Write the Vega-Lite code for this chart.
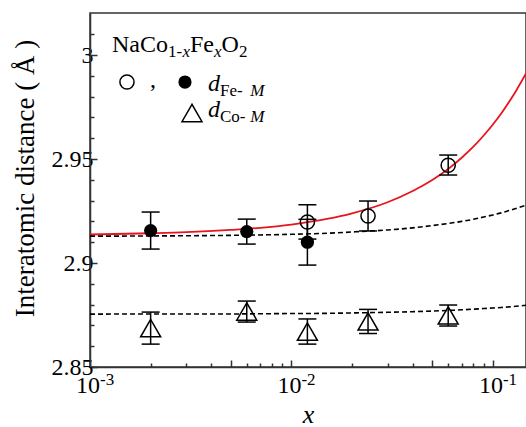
{
  "$schema": "https://vega.github.io/schema/vega-lite/v6.json",
  "width": 436,
  "height": 354,
  "autosize": {"type": "none"},
  "padding": {"left": 90, "top": 13, "right": 0, "bottom": 60},
  "background": "white",
  "config": {"view": {"stroke": "#333", "strokeWidth": 1.5}, "font": "Liberation Serif"},
  "datasets": {
    "curves": [
      {"c": "red", "x": 0.001, "y": 2.9137}, {"c": "red", "x": 0.002, "y": 2.9143}, {"c": "red", "x": 0.003, "y": 2.9148},
      {"c": "red", "x": 0.005, "y": 2.9159}, {"c": "red", "x": 0.007, "y": 2.9169}, {"c": "red", "x": 0.01, "y": 2.9185},
      {"c": "red", "x": 0.015, "y": 2.9212}, {"c": "red", "x": 0.02, "y": 2.9239}, {"c": "red", "x": 0.03, "y": 2.9292},
      {"c": "red", "x": 0.04, "y": 2.9346}, {"c": "red", "x": 0.05, "y": 2.9399}, {"c": "red", "x": 0.06, "y": 2.9452},
      {"c": "red", "x": 0.07, "y": 2.9506}, {"c": "red", "x": 0.08, "y": 2.9559}, {"c": "red", "x": 0.09, "y": 2.9613},
      {"c": "red", "x": 0.1, "y": 2.9666}, {"c": "red", "x": 0.11, "y": 2.9719}, {"c": "red", "x": 0.12, "y": 2.9773},
      {"c": "red", "x": 0.13, "y": 2.9826}, {"c": "red", "x": 0.146, "y": 2.9911},
      {"c": "fe", "x": 0.001, "y": 2.9129}, {"c": "fe", "x": 0.002, "y": 2.913}, {"c": "fe", "x": 0.003, "y": 2.9131},
      {"c": "fe", "x": 0.005, "y": 2.9133}, {"c": "fe", "x": 0.007, "y": 2.9135}, {"c": "fe", "x": 0.01, "y": 2.9138},
      {"c": "fe", "x": 0.015, "y": 2.9143}, {"c": "fe", "x": 0.02, "y": 2.9149}, {"c": "fe", "x": 0.03, "y": 2.9159},
      {"c": "fe", "x": 0.04, "y": 2.9169}, {"c": "fe", "x": 0.05, "y": 2.918}, {"c": "fe", "x": 0.06, "y": 2.919},
      {"c": "fe", "x": 0.07, "y": 2.92}, {"c": "fe", "x": 0.08, "y": 2.921}, {"c": "fe", "x": 0.09, "y": 2.9221},
      {"c": "fe", "x": 0.1, "y": 2.9231}, {"c": "fe", "x": 0.11, "y": 2.9241}, {"c": "fe", "x": 0.12, "y": 2.9252},
      {"c": "fe", "x": 0.13, "y": 2.9262}, {"c": "fe", "x": 0.146, "y": 2.9278},
      {"c": "co", "x": 0.001, "y": 2.8754}, {"c": "co", "x": 0.002, "y": 2.8755}, {"c": "co", "x": 0.003, "y": 2.8755},
      {"c": "co", "x": 0.005, "y": 2.8755}, {"c": "co", "x": 0.007, "y": 2.8756}, {"c": "co", "x": 0.01, "y": 2.8757},
      {"c": "co", "x": 0.015, "y": 2.8758}, {"c": "co", "x": 0.02, "y": 2.876}, {"c": "co", "x": 0.03, "y": 2.8763},
      {"c": "co", "x": 0.04, "y": 2.8766}, {"c": "co", "x": 0.05, "y": 2.8769}, {"c": "co", "x": 0.06, "y": 2.8772},
      {"c": "co", "x": 0.07, "y": 2.8775}, {"c": "co", "x": 0.08, "y": 2.8778}, {"c": "co", "x": 0.09, "y": 2.8781},
      {"c": "co", "x": 0.1, "y": 2.8784}, {"c": "co", "x": 0.11, "y": 2.8786}, {"c": "co", "x": 0.12, "y": 2.8789},
      {"c": "co", "x": 0.13, "y": 2.8792}, {"c": "co", "x": 0.146, "y": 2.8797}
    ],
    "pts": [
      {"k": "filled", "x": 0.002, "y": 2.9156, "lo": 2.9067, "hi": 2.9245},
      {"k": "filled", "x": 0.006, "y": 2.9151, "lo": 2.9091, "hi": 2.9211},
      {"k": "filled", "x": 0.012, "y": 2.91, "lo": 2.899, "hi": 2.921},
      {"k": "open", "x": 0.012, "y": 2.9197, "lo": 2.9115, "hi": 2.928},
      {"k": "open", "x": 0.024, "y": 2.9226, "lo": 2.9154, "hi": 2.9298},
      {"k": "open", "x": 0.06, "y": 2.947, "lo": 2.9423, "hi": 2.9519},
      {"k": "tri", "x": 0.002, "y": 2.8687, "lo": 2.861, "hi": 2.8764},
      {"k": "tri", "x": 0.006, "y": 2.8767, "lo": 2.8716, "hi": 2.8817},
      {"k": "tri", "x": 0.012, "y": 2.867, "lo": 2.861, "hi": 2.8731},
      {"k": "tri", "x": 0.024, "y": 2.8719, "lo": 2.8661, "hi": 2.8777},
      {"k": "tri", "x": 0.06, "y": 2.8748, "lo": 2.8697, "hi": 2.8798},
      {"k": "open", "x": 0.001526, "y": 2.98702},
      {"k": "filled", "x": 0.002961, "y": 2.98702},
      {"k": "tri", "x": 0.003208, "y": 2.97212}
    ],
    "txt": [
      {"k": "big", "t": "NaCo", "x": 0.001286, "y": 3.00144},
      {"k": "big", "t": "Fe", "x": 0.003135, "y": 3.00144},
      {"k": "big", "t": "O", "x": 0.004493, "y": 3.00144},
      {"k": "big", "t": ",", "x": 0.001985, "y": 2.98462},
      {"k": "sub", "t": "1-", "x": 0.002439, "y": 2.99904},
      {"k": "sub", "t": "2", "x": 0.00549, "y": 2.99904},
      {"k": "sub", "t": "Fe-", "x": 0.004418, "y": 2.98029},
      {"k": "sub", "t": "Co-", "x": 0.004418, "y": 2.96779},
      {"k": "subit", "t": "x", "x": 0.002878, "y": 2.99904},
      {"k": "subit", "t": "x", "x": 0.004125, "y": 2.99904},
      {"k": "subit", "t": "M", "x": 0.00625, "y": 2.98029},
      {"k": "subit", "t": "M", "x": 0.00625, "y": 2.96779},
      {"k": "bigit", "t": "d", "x": 0.003851, "y": 2.98293},
      {"k": "bigit", "t": "d", "x": 0.003851, "y": 2.97019}
    ],
    "xl": [
      {"x": 0.001, "b": "10", "e": "-3"},
      {"x": 0.01, "b": "10", "e": "-2"},
      {"x": 0.1, "b": "10", "e": "-1"}
    ]
  },
  "layer": [
    {
      "layer": [
        {
          "data": {"name": "curves"},
          "transform": [{"filter": "datum.c == 'red'"}],
          "mark": {"type": "line", "color": "#e8141e", "strokeWidth": 1.8, "interpolate": "monotone"},
          "encoding": {
            "x": {"field": "x", "type": "quantitative",
              "scale": {"type": "log", "domain": [0.001, 0.146], "nice": false},
              "axis": {"values": [0.001, 0.005, 0.01, 0.05, 0.1], "labels": false,
                "tickSize": -7, "tickWidth": 1.5, "tickColor": "#333", "domainColor": "#333", "domainWidth": 1.5,
                "grid": false,
                "title": "x", "titleFont": "Liberation Serif", "titleFontSize": 26, "titleFontStyle": "italic",
                "titleFontWeight": "normal", "titleColor": "black", "titleBaseline": "alphabetic", "titleY": 55}},
            "y": {"field": "y", "type": "quantitative",
              "scale": {"domain": [2.85, 3.0202], "nice": false, "zero": false},
              "axis": {"values": [2.85, 2.9, 2.95, 3], "format": "~g",
                "tickSize": -7, "tickWidth": 1.5, "tickColor": "#333", "domainColor": "#333", "domainWidth": 1.5,
                "grid": false, "labelFont": "Liberation Serif", "labelFontSize": 24, "labelColor": "black",
                "labelPadding": 4, "labelFlush": false, "labelOverlap": false,
                "title": "Interatomic distance (  Å  )", "titleFont": "Liberation Serif", "titleFontSize": 27,
                "titleFontWeight": "normal", "titleColor": "black", "titleBaseline": "alphabetic",
                "titleX": -57, "titleY": 165, "titleAlign": "center", "titleAngle": -90}}
          }
        },
        {
          "data": {"name": "curves"},
          "transform": [{"filter": "datum.c != 'red'"}],
          "mark": {"type": "line", "color": "black", "strokeWidth": 1.6, "strokeDash": [5, 3], "interpolate": "monotone"},
          "encoding": {
            "x": {"field": "x", "type": "quantitative", "scale": {"type": "log", "domain": [0.001, 0.146], "nice": false}},
            "y": {"field": "y", "type": "quantitative", "scale": {"domain": [2.85, 3.0202], "nice": false, "zero": false}},
            "detail": {"field": "c"}
          }
        },
        {
          "data": {"name": "pts"},
          "transform": [{"filter": "isValid(datum.lo)"}],
          "mark": {"type": "rule", "color": "black", "strokeWidth": 1.5},
          "encoding": {
            "x": {"field": "x", "type": "quantitative", "scale": {"type": "log", "domain": [0.001, 0.146], "nice": false}},
            "y": {"field": "lo", "type": "quantitative", "scale": {"domain": [2.85, 3.0202], "nice": false, "zero": false}},
            "y2": {"field": "hi"}
          }
        },
        {
          "data": {"name": "pts"},
          "transform": [{"filter": "isValid(datum.lo)"}],
          "mark": {"type": "tick", "orient": "horizontal", "color": "black", "size": 18, "thickness": 1.5, "opacity": 1},
          "encoding": {
            "x": {"field": "x", "type": "quantitative", "scale": {"type": "log", "domain": [0.001, 0.146], "nice": false}},
            "y": {"field": "lo", "type": "quantitative", "scale": {"domain": [2.85, 3.0202], "nice": false, "zero": false}}
          }
        },
        {
          "data": {"name": "pts"},
          "transform": [{"filter": "isValid(datum.lo)"}],
          "mark": {"type": "tick", "orient": "horizontal", "color": "black", "size": 18, "thickness": 1.5, "opacity": 1},
          "encoding": {
            "x": {"field": "x", "type": "quantitative", "scale": {"type": "log", "domain": [0.001, 0.146], "nice": false}},
            "y": {"field": "hi", "type": "quantitative", "scale": {"domain": [2.85, 3.0202], "nice": false, "zero": false}}
          }
        },
        {
          "data": {"name": "pts"},
          "transform": [{"filter": "datum.k == 'filled'"}],
          "mark": {"type": "point", "shape": "circle", "filled": true, "color": "black", "opacity": 1, "size": 175},
          "encoding": {
            "x": {"field": "x", "type": "quantitative", "scale": {"type": "log", "domain": [0.001, 0.146], "nice": false}},
            "y": {"field": "y", "type": "quantitative", "scale": {"domain": [2.85, 3.0202], "nice": false, "zero": false}}
          }
        },
        {
          "data": {"name": "pts"},
          "transform": [{"filter": "datum.k == 'open'"}],
          "mark": {"type": "point", "shape": "circle", "filled": false, "color": "black", "opacity": 1, "size": 200, "strokeWidth": 1.5},
          "encoding": {
            "x": {"field": "x", "type": "quantitative", "scale": {"type": "log", "domain": [0.001, 0.146], "nice": false}},
            "y": {"field": "y", "type": "quantitative", "scale": {"domain": [2.85, 3.0202], "nice": false, "zero": false}}
          }
        },
        {
          "data": {"name": "pts"},
          "transform": [{"filter": "datum.k == 'tri'"}],
          "mark": {"type": "point", "shape": "triangle-up", "filled": false, "color": "black", "opacity": 1, "size": 400, "strokeWidth": 1.5},
          "encoding": {
            "x": {"field": "x", "type": "quantitative", "scale": {"type": "log", "domain": [0.001, 0.146], "nice": false}},
            "y": {"field": "y", "type": "quantitative", "scale": {"domain": [2.85, 3.0202], "nice": false, "zero": false}}
          }
        },
        {
          "data": {"name": "txt"},
          "transform": [{"filter": "datum.k == 'big'"}],
          "mark": {"type": "text", "align": "left", "baseline": "alphabetic", "font": "Liberation Serif", "fontSize": 24, "color": "black"},
          "encoding": {
            "x": {"field": "x", "type": "quantitative", "scale": {"type": "log", "domain": [0.001, 0.146], "nice": false}},
            "y": {"field": "y", "type": "quantitative", "scale": {"domain": [2.85, 3.0202], "nice": false, "zero": false}},
            "text": {"field": "t"}
          }
        },
        {
          "data": {"name": "txt"},
          "transform": [{"filter": "datum.k == 'bigit'"}],
          "mark": {"type": "text", "align": "left", "baseline": "alphabetic", "font": "Liberation Serif", "fontSize": 24, "fontStyle": "italic", "color": "black"},
          "encoding": {
            "x": {"field": "x", "type": "quantitative", "scale": {"type": "log", "domain": [0.001, 0.146], "nice": false}},
            "y": {"field": "y", "type": "quantitative", "scale": {"domain": [2.85, 3.0202], "nice": false, "zero": false}},
            "text": {"field": "t"}
          }
        },
        {
          "data": {"name": "txt"},
          "transform": [{"filter": "datum.k == 'sub'"}],
          "mark": {"type": "text", "align": "left", "baseline": "alphabetic", "font": "Liberation Serif", "fontSize": 17, "color": "black"},
          "encoding": {
            "x": {"field": "x", "type": "quantitative", "scale": {"type": "log", "domain": [0.001, 0.146], "nice": false}},
            "y": {"field": "y", "type": "quantitative", "scale": {"domain": [2.85, 3.0202], "nice": false, "zero": false}},
            "text": {"field": "t"}
          }
        },
        {
          "data": {"name": "txt"},
          "transform": [{"filter": "datum.k == 'subit'"}],
          "mark": {"type": "text", "align": "left", "baseline": "alphabetic", "font": "Liberation Serif", "fontSize": 17, "fontStyle": "italic", "color": "black"},
          "encoding": {
            "x": {"field": "x", "type": "quantitative", "scale": {"type": "log", "domain": [0.001, 0.146], "nice": false}},
            "y": {"field": "y", "type": "quantitative", "scale": {"domain": [2.85, 3.0202], "nice": false, "zero": false}},
            "text": {"field": "t"}
          }
        },
        {
          "data": {"name": "xl"},
          "mark": {"type": "text", "align": "right", "baseline": "alphabetic", "font": "Liberation Serif", "fontSize": 24, "color": "black", "dx": 10, "dy": 26},
          "encoding": {
            "x": {"field": "x", "type": "quantitative", "scale": {"type": "log", "domain": [0.001, 0.146], "nice": false}},
            "y": {"datum": 2.85, "type": "quantitative", "scale": {"domain": [2.85, 3.0202], "nice": false, "zero": false}},
            "text": {"field": "b"}
          }
        },
        {
          "data": {"name": "xl"},
          "mark": {"type": "text", "align": "left", "baseline": "alphabetic", "font": "Liberation Serif", "fontSize": 17, "color": "black", "dx": 10, "dy": 18},
          "encoding": {
            "x": {"field": "x", "type": "quantitative", "scale": {"type": "log", "domain": [0.001, 0.146], "nice": false}},
            "y": {"datum": 2.85, "type": "quantitative", "scale": {"domain": [2.85, 3.0202], "nice": false, "zero": false}},
            "text": {"field": "e"}
          }
        }
      ]
    },
    {
      "data": {"name": "curves"},
      "mark": {"type": "point", "opacity": 0},
      "encoding": {
        "x": {"field": "x", "type": "quantitative",
          "scale": {"type": "log", "domain": [0.001, 0.146], "nice": false},
          "axis": {"orient": "bottom", "values": [0.002, 0.003, 0.004, 0.006, 0.007, 0.008, 0.009, 0.02, 0.03, 0.04, 0.06, 0.07, 0.08, 0.09],
            "labels": false, "domain": false, "grid": false, "tickSize": -4, "tickWidth": 1.5, "tickColor": "#333", "title": null}},
        "y": {"field": "y", "type": "quantitative",
          "scale": {"domain": [2.85, 3.0202], "nice": false, "zero": false},
          "axis": {"orient": "left", "values": [2.86, 2.87, 2.88, 2.89, 2.91, 2.92, 2.93, 2.94, 2.96, 2.97, 2.98, 2.99, 3.01],
            "labels": false, "domain": false, "grid": false, "tickSize": -4, "tickWidth": 1.5, "tickColor": "#333", "title": null}}
      }
    }
  ],
  "resolve": {"axis": {"x": "independent", "y": "independent"}}
}
